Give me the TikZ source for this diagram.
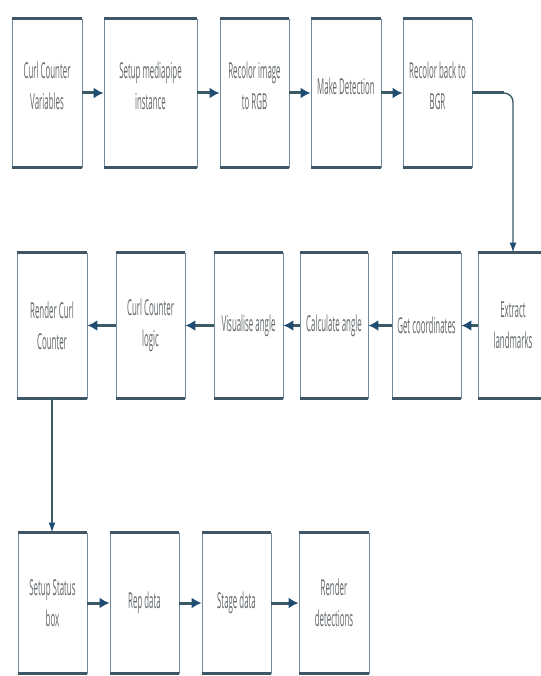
\documentclass[tikz,border=0pt]{standalone}
\usepackage{fontspec}
\setmainfont[FakeStretch=0.36]{Open Sans}
\usetikzlibrary{arrows.meta}

\definecolor{boxline}{HTML}{6F8A9C}
\definecolor{boxedge}{HTML}{3F5666}
\definecolor{flow}{HTML}{3A5A66}
\definecolor{tipblue}{HTML}{1F4C72}
\definecolor{labelgray}{HTML}{62676B}

\begin{document}
\begin{tikzpicture}[
      x=1bp, y=-1bp,
      stepbox/.style = {
        draw=boxline, line width=0.9bp, fill=white,
        text=labelgray, align=center, inner sep=0pt,
        font=\fontsize{22}{31}\selectfont
      },
      row1/.style = {stepbox, minimum height=148bp, text depth=14bp},
      row2/.style = {stepbox, minimum height=145bp},
      row3/.style = {stepbox, minimum height=140bp},
      flowbar/.style = {
        draw=flow, line width=3bp,
        -{Latex[length=10bp,width=11bp,color=tipblue]}
      },
      flowthin/.style = {
        draw=flow, line width=1.4bp,
        -{Latex[length=10bp,width=7bp,color=tipblue]}
      }
    ]
      \useasboundingbox (0,0) rectangle (541,676);

      % first row
      \node[row1, minimum width=70bp] (vars)    at (47,93)    {Curl Counter\\Variables};
      \node[row1, minimum width=93bp] (setup)   at (150.5,93) {Setup mediapipe\\instance};
      \node[row1, minimum width=69bp] (torgb)   at (254.5,93) {Recolor image\\to RGB};
      \node[row1, minimum width=70bp] (detect)  at (346,93)   {Make Detection};
      \node[row1, minimum width=69bp] (tobgr)   at (437.5,93) {Recolor back to\\BGR};

      % second row
      \node[row2, minimum width=70bp] (extract) at (513,325.5)   {Extract\\landmarks};
      \node[row2, minimum width=69bp] (coords)  at (426.5,325.5) {Get coordinates};
      \node[row2, minimum width=68bp] (calc)    at (334,325.5)   {Calculate angle};
      \node[row2, minimum width=69bp] (visual)  at (248.5,325.5) {Visualise angle};
      \node[row2, minimum width=69bp] (logic)   at (150.5,325.5) {Curl Counter\\logic};
      \node[row2, minimum width=70bp] (render)  at (52,325.5)    {Render Curl\\Counter};

      % third row
      \node[row3, minimum width=69bp] (status)  at (52.5,603)  {Setup Status\\box};
      \node[row3, minimum width=69bp] (rep)     at (144.5,603) {Rep data};
      \node[row3, minimum width=69bp] (stage)   at (236.5,603) {Stage data};
      \node[row3, minimum width=70bp] (dets)    at (334,603)   {Render\\detections};

      % thick top and bottom edges
      \foreach \n in {vars,setup,torgb,detect,tobgr,extract,coords,calc,visual,logic,render,status,rep,stage,dets}
        \draw[boxedge, line width=3bp]
          (\n.north west) -- (\n.north east)
          (\n.south west) -- (\n.south east);

      % connectors
      \draw[flowbar] (vars) -- (setup);
      \draw[flowbar] (setup) -- (torgb);
      \draw[flowbar] (torgb) -- (detect);
      \draw[flowbar] (detect) -- (tobgr);

      \coordinate (bend) at (extract.north |- tobgr.east);
      \draw[flowthin, rounded corners=9bp] (tobgr.east) -- (bend) -- (extract.north);
      \draw[draw=flow, line width=3bp] (tobgr.east) -- ([xshift=-9bp]bend);

      \draw[flowbar] (extract) -- (coords);
      \draw[flowbar] (coords) -- (calc);
      \draw[flowbar] (calc) -- (visual);
      \draw[flowbar] (visual) -- (logic);
      \draw[flowbar] (logic) -- (render);

      \draw[flowthin] (render.south) -- (render.south |- status.north);

      \draw[flowbar] (status) -- (rep);
      \draw[flowbar] (rep) -- (stage);
      \draw[flowbar] (stage) -- (dets);
    \end{tikzpicture}
\end{document}
